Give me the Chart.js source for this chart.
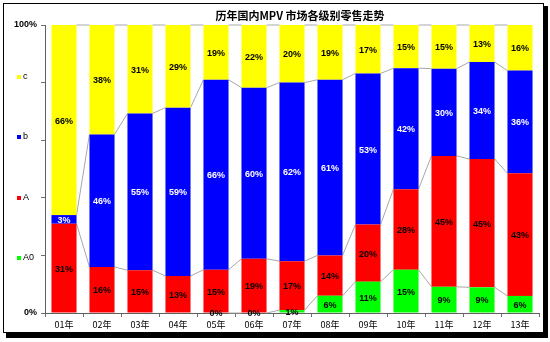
<!DOCTYPE html>
<html>
<head>
<meta charset="utf-8">
<script src="https://cdn.jsdelivr.net/npm/chart.js@4/dist/chart.umd.min.js"></script>
<style>
  html, body { margin: 0; padding: 0; background: #fff; }
  #wrap { width: 550px; height: 342px; }
</style>
</head>
<body>
<div id="wrap"><canvas id="mpvChart" width="550" height="342"></canvas></div>
<script>
const years = ["01年", "02年", "03年", "04年", "05年", "06年", "07年", "08年", "09年", "10年", "11年", "12年", "13年"];
// shares per segment (bottom to top)
const a0Share = [null, null, null, null, 0, 0, 1, 6, 11, 15, 9, 9, 6];
const aShare = [31, 16, 15, 13, 15, 19, 17, 14, 20, 28, 45, 45, 43];
const bShare = [3, 46, 55, 59, 66, 60, 62, 61, 53, 42, 30, 34, 36];
const cShare = [66, 38, 31, 29, 19, 22, 20, 19, 17, 15, 15, 13, 16];
const yTicks = [0, 20, 40, 60, 80, 100];

const chartTitle = "历年国内MPV 市场各级别零售走势";

// 100% stacked: scale each column to its own total
const totals = years.map((_, i) =>
  (a0Share[i] || 0) + aShare[i] + bShare[i] + cShare[i]
);
const pct = arr => arr.map((v, i) => (v === null ? null : v / totals[i] * 100));

const series = [
  { label: "A0", raw: a0Share, color: "#00ff00", text: "#000" },
  { label: "A", raw: aShare, color: "#ff0000", text: "#000" },
  { label: "b", raw: bShare, color: "#0000ff", text: "#fff" },
  { label: "c", raw: cShare, color: "#ffff00", text: "#000" }
];

// frame + title + legend drawn around the chart
const framePlugin = {
  id: "frame",
  beforeDraw(chart) {
    const ctx = chart.ctx;
    ctx.save();
    ctx.fillStyle = "#fff";
    ctx.fillRect(0, 0, chart.width, chart.height);
    ctx.fillStyle = "#000";
    ctx.fillRect(6, 6, 542, 332);
    ctx.fillStyle = "#fff";
    ctx.fillRect(3, 3, 541, 330);
    ctx.strokeStyle = "#000";
    ctx.lineWidth = 1;
    ctx.strokeRect(3.5, 3.5, 540, 329);
    ctx.restore();
  },
  afterDraw(chart) {
    const ctx = chart.ctx;
    const y = chart.scales.y;
    ctx.save();
    ctx.fillStyle = "#000";
    ctx.font = "bold 11px 'Noto Sans CJK SC'";
    ctx.textAlign = "center";
    ctx.textBaseline = "middle";
    ctx.fillText(chartTitle, 300, 16);

    // legend to the left of the axis
    const spots = { c: 82, b: 61, A: 40, A0: 19 };
    ctx.font = "9px 'Liberation Sans'";
    ctx.textAlign = "left";
    series.forEach(s => {
      const py = Math.round(y.getPixelForValue(spots[s.label]));
      ctx.fillStyle = s.color;
      ctx.fillRect(17, py - 2, 4, 4);
      ctx.fillStyle = "#000";
      ctx.fillText(s.label, 23, py);
    });
    ctx.restore();
  }
};

// excel style series lines between neighbouring bars
const seriesLinePlugin = {
  id: "seriesLines",
  beforeDatasetsDraw(chart) {
    const ctx = chart.ctx;
    ctx.save();
    ctx.strokeStyle = "#a8a8a8";
    ctx.lineWidth = 1;
    chart.data.datasets.forEach((ds, di) => {
      const bars = chart.getDatasetMeta(di).data;
      for (let i = 0; i < bars.length - 1; i++) {
        if (ds.data[i] === null || ds.data[i + 1] === null) continue;
        const p = bars[i], q = bars[i + 1];
        ctx.beginPath();
        ctx.moveTo(p.x + p.width / 2, p.y);
        ctx.lineTo(q.x - q.width / 2, q.y);
        ctx.stroke();
      }
    });
    ctx.restore();
  }
};

const labelPlugin = {
  id: "segLabels",
  afterDatasetsDraw(chart) {
    const ctx = chart.ctx;
    ctx.save();
    ctx.font = "bold 9px 'Liberation Sans'";
    ctx.textAlign = "center";
    ctx.textBaseline = "middle";
    chart.data.datasets.forEach((ds, di) => {
      const s = series[di];
      chart.getDatasetMeta(di).data.forEach((bar, i) => {
        const v = s.raw[i];
        if (v === null) return;
        ctx.fillStyle = s.text;
        const cy = (bar.y + bar.base) / 2;
        ctx.fillText(v + "%", bar.x, cy + 1);
      });
    });
    ctx.restore();
  }
};

new Chart(document.getElementById("mpvChart"), {
  type: "bar",
  data: {
    labels: years,
    datasets: series.map(s => ({
      label: s.label,
      data: pct(s.raw),
      backgroundColor: s.color,
      borderWidth: 0,
      categoryPercentage: 1,
      barPercentage: 0.66
    }))
  },
  options: {
    responsive: false,
    animation: false,
    devicePixelRatio: 1,
    layout: { padding: { top: 25, right: 11, left: 0, bottom: 0 } },
    plugins: {
      legend: { display: false },
      tooltip: { enabled: false }
    },
    scales: {
      x: {
        stacked: true,
        grid: {
          offset: true,
          drawOnChartArea: false,
          tickLength: 4,
          color: "#707070"
        },
        border: { color: "#606060" },
        ticks: {
          color: "#000",
          font: { family: "'Noto Sans CJK SC'", size: 9 },
          padding: 2,
          maxRotation: 0
        },
        afterFit(scale) { scale.height = 29; }
      },
      y: {
        stacked: true,
        min: 0,
        max: 100,
        afterBuildTicks(scale) {
          scale.ticks = yTicks.map(v => ({ value: v }));
        },
        grid: {
          drawOnChartArea: false,
          tickLength: 4,
          color: "#707070"
        },
        border: { color: "#606060" },
        ticks: {
          color: "#000",
          font: { family: "'Liberation Sans'", size: 9, weight: "bold" },
          padding: 4,
          callback: v => (v === 0 || v === 100 ? v + "%" : "")
        },
        afterFit(scale) { scale.width = 45; }
      }
    }
  },
  plugins: [framePlugin, seriesLinePlugin, labelPlugin]
});
</script>
</body>
</html>
